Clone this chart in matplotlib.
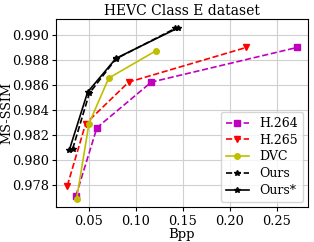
import matplotlib
matplotlib.use("Agg")
import matplotlib.pyplot as plt

plt.rcParams["font.family"] = "DejaVu Serif"

h264_bpp = [0.0365, 0.0588, 0.1166, 0.2713]
h264_ssim = [0.9771, 0.98255, 0.9862, 0.98897]
h265_bpp = [0.0273, 0.0468, 0.0925, 0.2173]
h265_ssim = [0.9779, 0.98287, 0.9862, 0.98897]
dvc_bpp = [0.0372, 0.0503, 0.0713, 0.1216]
dvc_ssim = [0.97684, 0.98287, 0.98652, 0.98871]
ours_bpp = [0.0330, 0.0507, 0.0790, 0.1420]
ours_ssim = [0.98085, 0.9853, 0.98806, 0.99050]
ours_star_bpp = [0.0294, 0.0489, 0.0790, 0.1453]
ours_star_ssim = [0.98075, 0.9854, 0.9881, 0.99055]

fig, ax = plt.subplots(figsize=(3.14, 2.42), dpi=100)
ax.plot(h264_bpp, h264_ssim, "m--s", ms=4, lw=1.2, label="H.264")
ax.plot(h265_bpp, h265_ssim, "r--v", ms=4, lw=1.2, label="H.265")
ax.plot(dvc_bpp, dvc_ssim, "y-o", ms=4, lw=1.2, label="DVC")
ax.plot(ours_bpp, ours_ssim, "k--*", ms=4, lw=1.2, label="Ours")
ax.plot(ours_star_bpp, ours_star_ssim, "k-*", ms=4, lw=1.2, label="Ours*")

ax.set_xlim(0.0152, 0.283)
ax.set_ylim(0.97621, 0.99124)
ax.set_xticks([0.05, 0.10, 0.15, 0.20, 0.25])
ax.set_yticks([0.978, 0.980, 0.982, 0.984, 0.986, 0.988, 0.990])
ax.tick_params(labelsize=9.3, length=3, pad=2.5)
ax.tick_params(axis="y", pad=2)
ax.grid(True, color="#d0d0d0", lw=0.8)
ax.set_xlabel("Bpp", fontsize=9.5, labelpad=0)
ax.set_ylabel("MS-SSIM", fontsize=9.2)
ax.yaxis.set_label_coords(-0.168, 0.5)
ax.set_title("HEVC Class E dataset", fontsize=10, pad=3)
ax.legend(loc="lower right", fontsize=9, handlelength=1.9, labelspacing=0.3,
          borderaxespad=0.4, borderpad=0.4)

fig.subplots_adjust(left=0.178, right=0.981, top=0.921, bottom=0.145)
fig.savefig("out.png", dpi=100)
